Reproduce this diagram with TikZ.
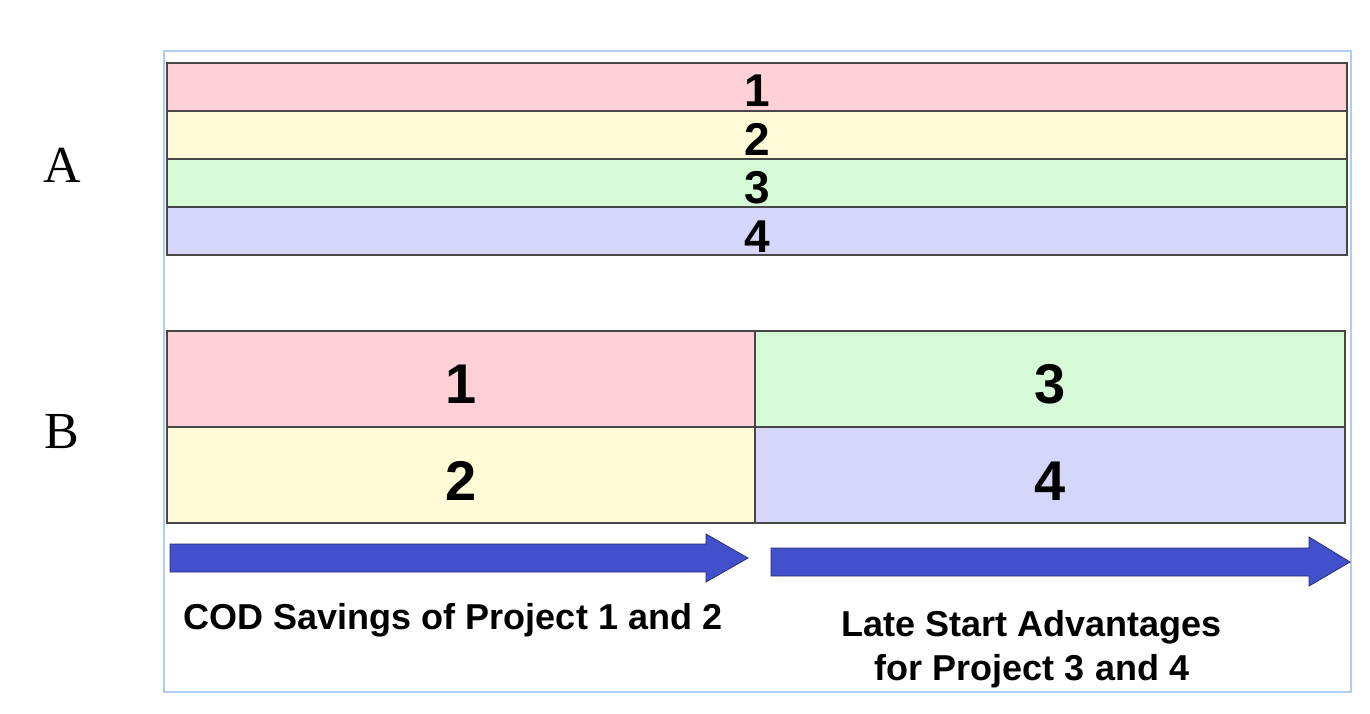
\documentclass[tikz,border=0pt]{standalone}
\usepackage{fontspec}
\setmainfont{Liberation Serif}
\newfontfamily\arialfont{Liberation Sans}
\begin{document}
\begin{tikzpicture}[x=1pt,y=-1pt,
  band/.style={draw=black!72,line width=1.8pt,rectangle,inner sep=0pt},
  numA/.style={anchor=base,font=\arialfont\bfseries\fontsize{46}{46}\selectfont,inner sep=0pt},
  numB/.style={anchor=base,font=\arialfont\bfseries\fontsize{56}{56}\selectfont,inner sep=0pt},
  rowlabel/.style={anchor=base,font=\fontsize{52}{52}\selectfont,inner sep=0pt},
  caption/.style={anchor=base,font=\arialfont\bfseries\fontsize{36}{44}\selectfont,inner sep=0pt,align=center},
  bigarrow/.style={fill=arrowblue,draw=arrowedge,line width=0.8pt,line join=miter}]
\definecolor{pinkband}{RGB}{255,208,216}
\definecolor{yellowband}{RGB}{255,250,216}
\definecolor{greenband}{RGB}{214,250,214}
\definecolor{blueband}{RGB}{214,214,250}
\definecolor{frameblue}{RGB}{176,204,240}
\definecolor{arrowblue}{RGB}{66,80,204}
\definecolor{arrowedge}{RGB}{40,45,110}
\useasboundingbox[fill=white] (0,0) rectangle (1370,714);
% frame
\node[draw=frameblue,line width=2pt,rectangle,inner sep=0pt,minimum width=1187pt,minimum height=640pt] (frame) at (757.5,371.5) {};
% A bands
\node[band,fill=pinkband,minimum width=1180pt,minimum height=48pt] (a1) at (757,87) {};
\node[band,fill=yellowband,minimum width=1180pt,minimum height=48pt] (a2) at (757,135) {};
\node[band,fill=greenband,minimum width=1180pt,minimum height=48pt] (a3) at (757,183) {};
\node[band,fill=blueband,minimum width=1180pt,minimum height=48pt] (a4) at (757,231) {};
\node[numA] (ta1) at (757,107) {1};
\node[numA] (ta2) at (757,156) {2};
\node[numA] (ta3) at (757,204) {3};
\node[numA] (ta4) at (757,252) {4};
% B blocks
\node[band,fill=pinkband,minimum width=588pt,minimum height=96pt] (b1) at (461,379) {};
\node[band,fill=yellowband,minimum width=588pt,minimum height=96pt] (b2) at (461,475) {};
\node[band,fill=greenband,minimum width=590pt,minimum height=96pt] (b3) at (1050,379) {};
\node[band,fill=blueband,minimum width=590pt,minimum height=96pt] (b4) at (1050,475) {};
\node[numB] (tb1) at (461,403) {1};
\node[numB] (tb2) at (461,500) {2};
\node[numB] (tb3) at (1050,403) {3};
\node[numB] (tb4) at (1050,500) {4};
% row labels
\node[rowlabel] (la) at (62.5,183) {A};
\node[rowlabel] (lb) at (61.5,448) {B};
% arrows
\draw[bigarrow] (170,544) -- (706,544) -- (706,534) -- (748,558) -- (706,582) -- (706,572) -- (170,572) -- cycle;
\draw[bigarrow] (771,548) -- (1309,548) -- (1309,537) -- (1350,562) -- (1309,586) -- (1309,576) -- (771,576) -- cycle;
% captions
\node[caption] (c1) at (453,629) {COD Savings of Project 1 and 2};
\node[caption] (c2) at (1032,636) {Late Start Advantages};
\node[caption] (c3) at (1032,680) {for Project 3 and 4};
\end{tikzpicture}
\end{document}
